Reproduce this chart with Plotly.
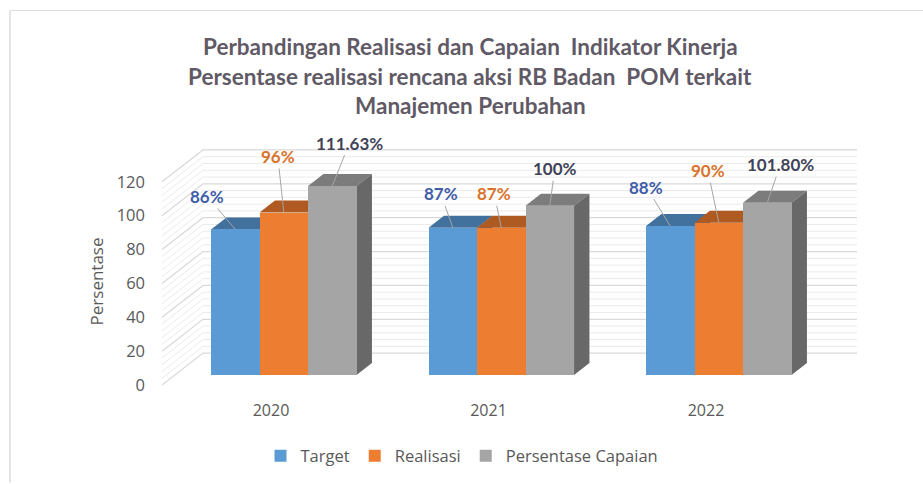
import plotly.graph_objects as go

# ---- data ----
years = ["2020", "2021", "2022"]
target = [86, 87, 88]
realisasi = [96, 87, 90]
capaian = [111.63, 100, 101.80]
target_labels = ["86%", "87%", "88%"]
realisasi_labels = ["96%", "87%", "90%"]
capaian_labels = ["111.63%", "100%", "101.80%"]
y_ticks = [0, 20, 40, 60, 80, 100, 120]
title_lines = [
    "Perbandingan Realisasi dan Capaian  Indikator Kinerja",
    "Persentase realisasi rencana aksi RB Badan  POM terkait",
    "Manajemen Perubahan",
]

# ---- oblique projection (plot frame in pixels) ----
W, H = 923, 484
L, R, T, B = 150, 870, 140, 392
Y0_PX, PX_PER_UNIT = 386, 1.7
X0_PX, PX_PER_GROUP = 271, 217.5
DEPTH_DX, DEPTH_DY = 41, 32
BAR_PX = 48.5
D_FRONT, D_BACK = 0.3125, 0.6875
X_RIGHT_PX = 857

xu = lambda px: px / PX_PER_GROUP
yu = lambda px: px / PX_PER_UNIT
def project(x, v, d):
    return x + xu(DEPTH_DX * d), v + yu(DEPTH_DY * d)

fig = go.Figure()

# ---- wall grid ----
def grid(values, color, width, z):
    xs, ys = [], []
    x_right = xu(X_RIGHT_PX - X0_PX)
    x_left = xu(162 - X0_PX)
    for v in values:
        bx, by = project(x_left, v, 1)
        fx, fy = project(x_left, v, 0)
        xs += [fx, bx, x_right, None]
        ys += [fy, by, by, None]
    fig.add_trace(go.Scatter(x=xs, y=ys, mode="lines", showlegend=False, hoverinfo="skip",
                             line=dict(color=color, width=width), zorder=z))

grid([v for v in range(0, 121, 4) if v % 20], "#ebebeb", 1, 0)
grid(y_ticks, "#d9d9d9", 1.2, 1)

# ---- bars with faces ----
series = [
    ("Target", target, "#5b9bd5", "#41719c", "#41719c", -1),
    ("Realisasi", realisasi, "#ed7d31", "#ae5a21", "#ae5a21", 0),
    ("Persentase Capaian", capaian, "#a5a5a5", "#7c7c7c", "#686868", 1),
]
z = 2
for name, vals, front, top, side, pos in series:
    cx = [i + xu(pos * BAR_PX + DEPTH_DX * D_FRONT) for i in range(len(vals))]
    hw = xu(BAR_PX / 2)
    dx, dy = xu(DEPTH_DX * (D_BACK - D_FRONT)), yu(DEPTH_DY * (D_BACK - D_FRONT))
    base = yu(DEPTH_DY * D_FRONT)
    tx, ty, sx, sy = [], [], [], []
    for c, v in zip(cx, vals):
        tx += [c - hw, c + hw, c + hw + dx, c - hw + dx, c - hw, None]
        ty += [base + v, base + v, base + v + dy, base + v + dy, base + v, None]
        sx += [c + hw, c + hw + dx, c + hw + dx, c + hw, c + hw, None]
        sy += [base, base + dy, base + v + dy, base + v, base, None]
    for xs, ys, col in ((tx, ty, top), (sx, sy, side)):
        fig.add_trace(go.Scatter(x=xs, y=ys, mode="lines", fill="toself", fillcolor=col,
                                 line=dict(width=0, color=col), showlegend=False,
                                 hoverinfo="skip", zorder=z))
    fig.add_trace(go.Bar(x=cx, y=vals, base=[base] * len(vals), width=xu(BAR_PX), name=name,
                         marker=dict(color=front, line=dict(width=0)), zorder=z + 1))
    z += 2

# ---- data labels with leader lines ----
label_sets = [
    (target, target_labels, "#3f5ea8", -1, [(-28, -33), (-12, -34), (-24, -39)]),
    (realisasi, realisasi_labels, "#d9742c", 0, [(-6, -56), (-7, -34), (-11, -52)]),
    (capaian, capaian_labels, "#3f4358", 1, [(17, -43), (5, -37), (13, -38)]),
]
for vals, labels, col, pos, offs in label_sets:
    for i, (v, lab, (ax, ay)) in enumerate(zip(vals, labels, offs)):
        fig.add_annotation(
            x=i + xu(pos * BAR_PX + DEPTH_DX * D_FRONT), y=v + yu(DEPTH_DY * D_FRONT),
            text=f"<b>{lab}</b>", ax=ax, ay=ay, showarrow=True, arrowhead=0, arrowwidth=1,
            arrowcolor="#a6a6a6", font=dict(family="Lato", size=17, color=col),
        )

# ---- axis title ----
fig.add_annotation(text="Persentase", xref="paper", yref="paper", showarrow=False, textangle=-90,
                   x=(96 - L) / (R - L), y=(B - 282) / (B - T), xanchor="center", yanchor="middle",
                   font=dict(family="Open Sans", size=17, color="#595959"))

# ---- title ----
for line, py in zip(title_lines, (46, 76, 105)):
    fig.add_annotation(text=f"<b>{line}</b>", xref="paper", yref="paper", showarrow=False,
                       x=(470 - L) / (R - L), y=(B - py) / (B - T), xanchor="center", yanchor="middle",
                       font=dict(family="Lato", size=22.5, color="#5f5a66"))

frame = "#dcdcdc"
fig.update_layout(
    width=W, height=H, autosize=False,
    margin=dict(l=L, r=W - R, t=T, b=H - B, pad=0),
    paper_bgcolor="white", plot_bgcolor="white",
    barmode="overlay", bargap=0,
    font=dict(family="Lato", color="#595959"),
    hovermode="closest",
    xaxis=dict(range=[xu(L - X0_PX), xu(R - X0_PX)], tickvals=list(range(len(years))), ticktext=years,
               showgrid=False, zeroline=False, showline=False, ticks="",
               ticklabelstandoff=8, tickfont=dict(family="Open Sans", size=16, color="#595959")),
    yaxis=dict(range=[yu(Y0_PX - B), yu(Y0_PX - T)], tickvals=y_ticks, showgrid=False, zeroline=False,
               showline=False, ticks="", ticklabelstandoff=4,
               tickfont=dict(family="Open Sans", size=16.5, color="#595959")),
    legend=dict(orientation="h", xref="paper", yref="paper", x=(462 - L) / (R - L), xanchor="center",
                y=(B - 456) / (B - T), yanchor="middle", font=dict(family="Open Sans", size=16.5, color="#595959"),
                itemsizing="constant", itemwidth=30, traceorder="normal", bgcolor="rgba(0,0,0,0)"),
    shapes=[
        dict(type="line", xref="paper", yref="paper", x0=(10 - L) / (R - L), x1=(10 - L) / (R - L),
             y0=(B - 10) / (B - T), y1=(B - H) / (B - T), line=dict(color=frame, width=1.5)),
        dict(type="line", xref="paper", yref="paper", x0=(10 - L) / (R - L), x1=(W - L) / (R - L),
             y0=(B - 10) / (B - T), y1=(B - 10) / (B - T), line=dict(color=frame, width=1)),
    ],
)

fig.write_html("out.html", config={"displayModeBar": False},
               post_script="document.body.style.margin='0';document.body.style.overflow='hidden';")
